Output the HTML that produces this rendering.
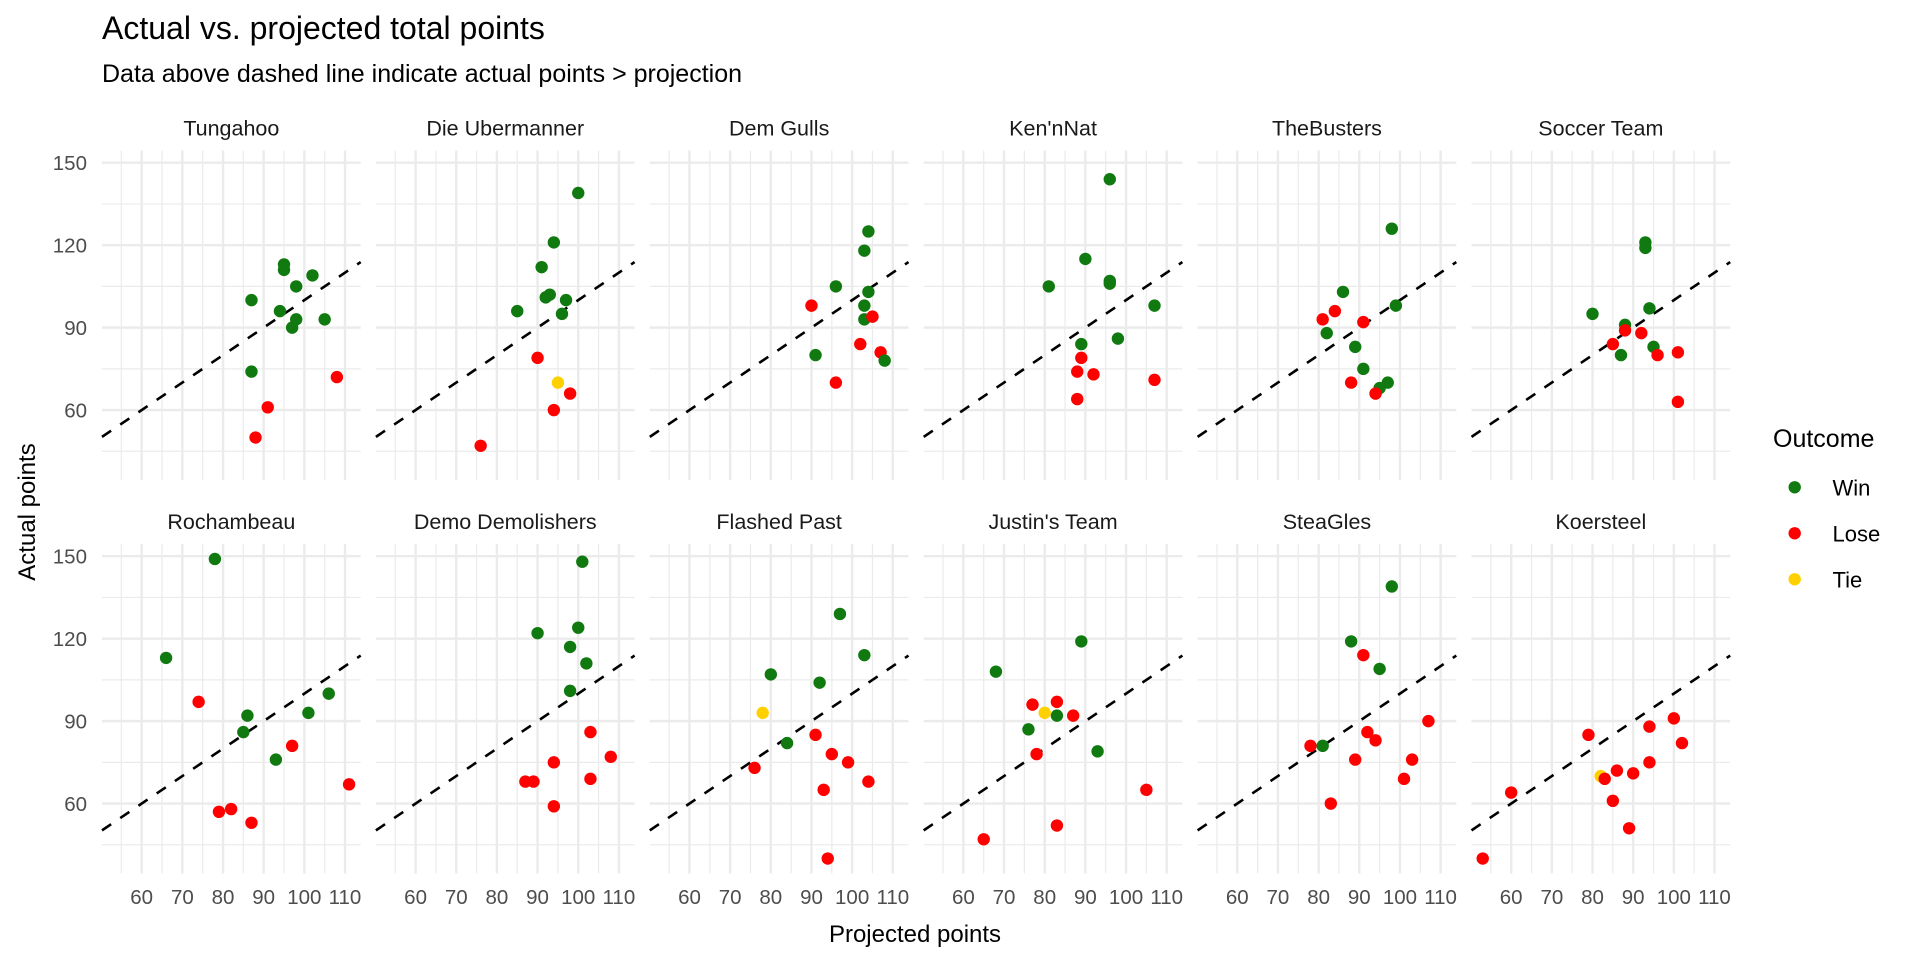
<!DOCTYPE html>
<html><head><meta charset="utf-8"><title>Actual vs. projected total points</title>
<style>
html,body{margin:0;padding:0;background:#fff;}
svg{display:block;font-family:"Liberation Sans",Arial,sans-serif;}
</style></head>
<body>
<svg id="chart" width="1920" height="960" viewBox="0 0 1920 960" xmlns="http://www.w3.org/2000/svg">
<rect width="1920" height="960" fill="#fff"/>
<text x="102" y="39" font-size="32" fill="#000">Actual vs. projected total points</text>
<text x="102" y="82" font-size="25" fill="#000">Data above dashed line indicate actual points &gt; projection</text>
<text x="915" y="942" font-size="24" fill="#000" text-anchor="middle">Projected points</text>
<text transform="translate(35,512) rotate(-90)" font-size="24" fill="#000" text-anchor="middle">Actual points</text>
<g id="panels"></g>
<g id="legend">
<text x="1773" y="447" font-size="25" fill="#000">Outcome</text>
</g>
</svg>
<script>
const teams = ["Tungahoo","Die Ubermanner","Dem Gulls","Ken'nNat","TheBusters","Soccer Team","Rochambeau","Demo Demolishers","Flashed Past","Justin's Team","SteaGles","Koersteel"];
const outcomes = ["Win","Lose","Tie"];
const outcomeColors = ["#107a10","#ff0000","#ffd000"];
// per team: projected, actual, outcome index (0 win,1 lose,2 tie)
const projected = [
 [87,87,95,95,94,98,98,97,102,105,91,88,108],
 [100,94,91,92,93,97,96,85,90,95,98,94,76],
 [104,103,96,104,103,103,90,105,102,107,108,91,96],
 [96,90,81,96,96,107,98,89,89,88,92,107,88],
 [98,86,99,84,81,82,91,89,91,88,95,94,97],
 [93,93,80,94,88,88,92,85,95,87,96,101,101],
 [66,78,74,86,85,101,106,93,97,79,82,87,111],
 [101,100,90,98,102,98,103,108,94,103,87,89,94],
 [97,103,80,92,78,84,91,95,99,76,104,93,94],
 [68,89,77,83,80,83,87,76,78,93,105,83,65],
 [98,88,91,95,107,92,94,78,81,89,103,101,83],
 [53,60,79,82,83,86,90,85,89,94,94,100,102]
];
const actual = [
 [100,74,113,111,96,105,93,90,109,93,61,50,72],
 [139,121,112,101,102,100,95,96,79,70,66,60,47],
 [125,118,105,103,98,93,98,94,84,81,78,80,70],
 [144,115,105,107,106,98,86,84,79,74,73,71,64],
 [126,103,98,96,93,88,92,83,75,70,68,66,70],
 [121,119,95,97,91,89,88,84,83,80,80,81,63],
 [113,149,97,92,86,93,100,76,81,57,58,53,67],
 [148,124,122,117,111,101,86,77,75,69,68,68,59],
 [129,114,107,104,93,82,85,78,75,73,68,65,40],
 [108,119,96,97,93,92,92,87,78,79,65,52,47],
 [139,119,114,109,90,86,83,81,81,76,76,69,60],
 [40,64,85,70,69,72,71,61,51,75,88,91,82]
];
const outcomeIdx = [
 [0,0,0,0,0,0,0,0,0,0,1,1,1],
 [0,0,0,0,0,0,0,0,1,2,1,1,1],
 [0,0,0,0,0,0,1,1,1,1,0,0,1],
 [0,0,0,0,0,0,0,0,1,1,1,1,1],
 [0,0,0,1,1,0,1,0,0,1,0,1,0],
 [0,0,0,0,0,1,1,1,0,0,1,1,1],
 [0,0,1,0,0,0,0,0,1,1,1,1,1],
 [0,0,0,0,0,0,1,1,1,1,1,1,1],
 [0,0,0,0,2,0,1,1,1,1,1,1,1],
 [0,0,1,1,2,0,1,0,1,0,1,1,1],
 [0,0,1,0,1,1,1,1,0,1,1,1,1],
 [1,1,1,2,1,1,1,1,1,1,1,1,1]
];
const xTicks = [60,70,80,90,100,110];
const xMinor = [55,65,75,85,95,105];
const yTicks = [60,90,120,150];
const yMinor = [45,75,105,135];

const NS = "http://www.w3.org/2000/svg";
const X0 = 102, PITCH = 273.9, PW = 258.7;
const ROWTOP = [150.5, 544];
const PH = 329.5;
const XMIN = 50.24, XMAX = 113.86, YMIN = 34.55, YMAX = 154.45;
function xs(v, left){ return left + (v - XMIN) / (XMAX - XMIN) * PW; }
function ys(v, top){ return top + (YMAX - v) / (YMAX - YMIN) * PH; }
function mk(tag, attrs, parent){
  const e = document.createElementNS(NS, tag);
  for (const k in attrs) e.setAttribute(k, attrs[k]);
  parent.appendChild(e);
  return e;
}
const panels = document.getElementById("panels");
teams.forEach((team, i) => {
  const col = i % 6, row = Math.floor(i / 6);
  const left = X0 + col * PITCH, top = ROWTOP[row];
  const g = mk("g", {}, panels);
  
  
  xMinor.forEach(v => {
    const l = mk("line", {x1: xs(v,left), x2: xs(v,left), y1: top, y2: top+PH, stroke: "#ebebeb", "stroke-width": 1.2}, g);
    
    
  });
  yMinor.forEach(v => {
    const l = mk("line", {x1: left, x2: left+PW, y1: ys(v,top), y2: ys(v,top), stroke: "#ebebeb", "stroke-width": 1.2}, g);
    
    
  });
  xTicks.forEach(v => {
    const l = mk("line", {x1: xs(v,left), x2: xs(v,left), y1: top, y2: top+PH, stroke: "#ebebeb", "stroke-width": 2.4}, g);
    
    
  });
  yTicks.forEach(v => {
    const l = mk("line", {x1: left, x2: left+PW, y1: ys(v,top), y2: ys(v,top), stroke: "#ebebeb", "stroke-width": 2.4}, g);
    
    
  });
  const st = mk("text", {x: left + PW/2, y: top - 15, "font-size": 21.5, fill: "#1a1a1a", "text-anchor": "middle"}, g);
  st.textContent = team;
  
  
  const ref = mk("line", {x1: xs(XMIN,left), y1: ys(XMIN,top), x2: xs(XMAX,left), y2: ys(XMAX,top), stroke: "#000", "stroke-width": 2.6, "stroke-dasharray": "11,11"}, g);
  
  
  projected[i].forEach((p, j) => {
    const c = mk("circle", {cx: xs(p,left), cy: ys(actual[i][j],top), r: 6.2, fill: outcomeColors[outcomeIdx[i][j]]}, g);
    
    
  });
  if (col === 0) {
    yTicks.forEach(v => {
      const t = mk("text", {x: 87, y: ys(v,top) + 7.5, "font-size": 20.5, fill: "#4d4d4d", "text-anchor": "end"}, g);
      t.textContent = v;
      
      
    });
  }
  if (row === 1) {
    xTicks.forEach(v => {
      const t = mk("text", {x: xs(v,left), y: 904, "font-size": 20.5, fill: "#4d4d4d", "text-anchor": "middle"}, g);
      t.textContent = v;
      
      
    });
  }
});
const legend = document.getElementById("legend");
outcomes.forEach((o, k) => {
  const cy = 487.3 + k * 46;
  const c = mk("circle", {cx: 1794.7, cy: cy, r: 6.2, fill: outcomeColors[k]}, legend);
  
  
  const t = mk("text", {x: 1832.5, y: cy + 8, "font-size": 22, fill: "#000"}, legend);
  t.textContent = o;
  
  
});
</script>
</body></html>
